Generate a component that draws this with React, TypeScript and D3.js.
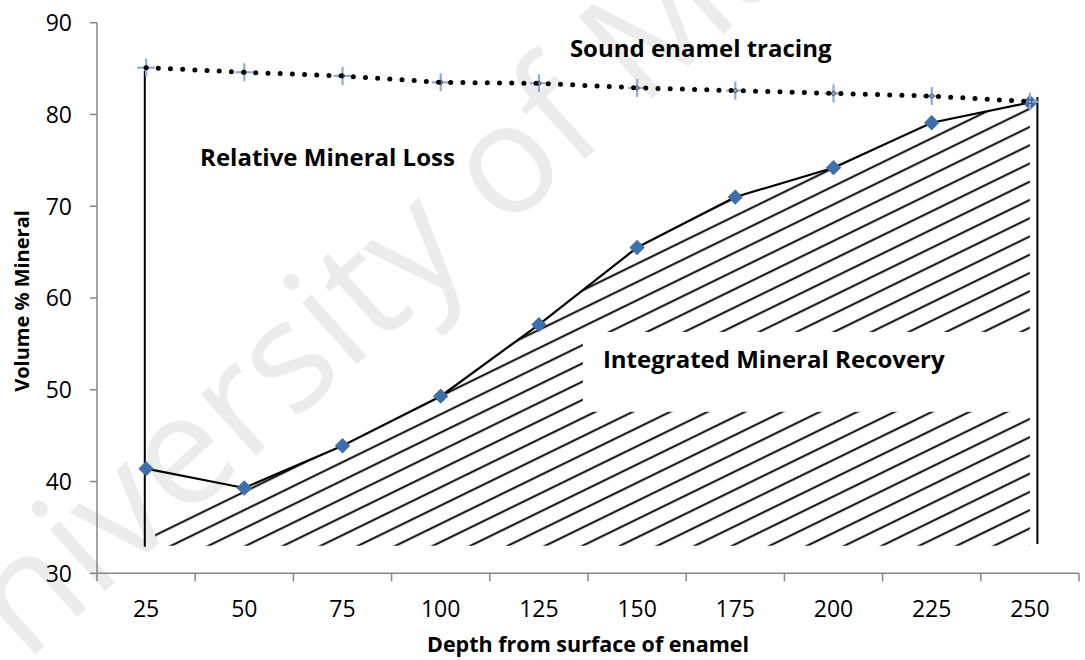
import React from "react";
import * as d3 from "d3";

// Depth into enamel (µm) at which each reading was taken
const depths = [25, 50, 75, 100, 125, 150, 175, 200, 225, 250];
// Lesion mineral profile (volume % mineral)
const lesionMineral = [41.4, 39.3, 43.9, 49.3, 57.1, 65.5, 71.0, 74.2, 79.1, 81.3];
// Sound enamel reference tracing (volume % mineral)
const soundMineral = [85.1, 84.6, 84.2, 83.5, 83.4, 82.9, 82.6, 82.3, 82.0, 81.4];
const yTicks = [30, 40, 50, 60, 70, 80, 90];
// Lower bound of the integrated recovery area
const hatchFloor = 33.0;

const W = 1085;
const H = 660;
const plot = { left: 97, right: 1079, top: 22.7, bottom: 573.3 };
const axisColor = "#868686";
const markerBlue = "#3f6fab";
const crossBlue = "#8eaad6";
const font = "'Open Sans', 'Liberation Sans', sans-serif";

export default function App() {
  const x = d3
    .scaleBand<number>()
    .domain(depths)
    .range([plot.left, plot.right])
    .padding(0);
  const cx = (d: number) => (x(d) as number) + x.bandwidth() / 2;
  const y = d3.scaleLinear().domain([30, 90]).range([plot.bottom, plot.top]);

  const lesionPts: [number, number][] = depths.map((d, i) => [cx(d), y(lesionMineral[i])]);
  const soundPts: [number, number][] = depths.map((d, i) => [cx(d), y(soundMineral[i])]);
  const line = d3.line();

  // Hatched area: under the lesion profile from the second reading onward,
  // extended to the left along the hatch direction.
  const slope = Math.tan((26 * Math.PI) / 180);
  const hatchLeft = cx(depths[0]) + 9;
  const leftTopY = lesionPts[1][1] + slope * (lesionPts[1][0] - hatchLeft);
  const hatchPoly: [number, number][] = [
    [hatchLeft, y(hatchFloor)],
    [hatchLeft, leftTopY],
    ...lesionPts.slice(1),
    [cx(depths[depths.length - 1]), y(hatchFloor)],
  ];

  const last = depths[depths.length - 1];
  // square turned 45° gives the diamond marker
  const diamond = d3.symbol(d3.symbolSquare, 118)() as string;

  return (
    <svg
      width={W}
      height={H}
      style={{ position: "absolute", left: 0, top: 0, background: "#fff" }}
      fontFamily={font}
    >
      <defs>
        <pattern
          id="hatch"
          patternUnits="userSpaceOnUse"
          width={60}
          height={16.4}
          patternTransform="rotate(-26)"
        >
          <line x1={0} x2={60} y1={8} y2={8} stroke="#000" strokeWidth={1.9} />
        </pattern>
        <clipPath id="hatchClip">
          <path d={line(hatchPoly) + "Z"} />
        </clipPath>
      </defs>

      {/* watermark */}
      <text
        transform="translate(-58,738) rotate(-42)"
        fontSize={154}
        fill="#ececec"
        fontFamily={font}
      >
        University of Malaya
      </text>

      {/* hatched recovery region */}
      <rect
        x={plot.left}
        y={plot.top}
        width={plot.right - plot.left}
        height={plot.bottom - plot.top}
        fill="url(#hatch)"
        clipPath="url(#hatchClip)"
      />
      {/* cleared box behind the recovery label */}
      <rect
        x={cx(125) + 44}
        y={y(56.3)}
        width={cx(last) - cx(125) - 41}
        height={y(47.6) - y(56.3)}
        fill="#fff"
      />

      {/* axes */}
      <g stroke={axisColor} strokeWidth={1.5} fill="none">
        <line x1={plot.left} x2={plot.left} y1={plot.top} y2={plot.bottom + 8} />
        <line x1={plot.left} x2={plot.right} y1={plot.bottom} y2={plot.bottom} />
        {yTicks.map((t) => (
          <line key={t} x1={plot.left - 7} x2={plot.left} y1={y(t)} y2={y(t)} />
        ))}
        {depths.map((d) => (
          <line
            key={d}
            x1={(x(d) as number) + x.bandwidth()}
            x2={(x(d) as number) + x.bandwidth()}
            y1={plot.bottom}
            y2={plot.bottom + 8}
          />
        ))}
      </g>
      <g fontSize={23} fill="#000">
        {yTicks.map((t) => (
          <text key={t} x={plot.left - 25} y={y(t)} dy="0.36em" textAnchor="end">
            {t}
          </text>
        ))}
        {depths.map((d) => (
          <text key={d} x={cx(d)} y={plot.bottom + 44} textAnchor="middle">
            {d}
          </text>
        ))}
      </g>
      <text
        x={(plot.left + plot.right) / 2}
        y={652}
        textAnchor="middle"
        fontSize={21.5}
        fontWeight="bold"
      >
        Depth from surface of enamel
      </text>
      <text
        transform={`translate(29,${y(60) + 3}) rotate(-90)`}
        textAnchor="middle"
        fontSize={20}
        fontWeight="bold"
      >
        Volume % Mineral
      </text>

      {/* boundary verticals */}
      <g stroke="#000" strokeWidth={2}>
        <line x1={cx(depths[0]) - 1.3} x2={cx(depths[0]) - 1.3} y1={y(soundMineral[0]) + 3} y2={y(32.9)} />
        <line x1={cx(last) + 7.5} x2={cx(last) + 7.5} y1={y(81.9)} y2={y(33.2)} />
      </g>

      {/* lesion profile */}
      <path d={line(lesionPts) as string} fill="none" stroke="#000" strokeWidth={2.2} />
      {lesionPts.map(([px, py], i) => (
        <path
          key={i}
          d={diamond}
          transform={`translate(${px},${py}) rotate(45)`}
          fill={markerBlue}
        />
      ))}

      {/* sound enamel tracing */}
      <g>
        {soundPts.map(([px, py], i) => (
          <g key={i} transform={`translate(${px},${py})`}>
            <line x1={-9} x2={9} y1={0} y2={0} stroke={crossBlue} strokeWidth={2.2} />
            <line x1={0} x2={0} y1={-9} y2={9} stroke={crossBlue} strokeWidth={2.2} />
            <circle r={2} fill="none" stroke="#333" strokeWidth={0.8} />
          </g>
        ))}
        <path
          d={line(soundPts) as string}
          fill="none"
          stroke="#000"
          strokeWidth={5}
          strokeLinecap="round"
          strokeDasharray="0 12.2"
        />
      </g>

      {/* annotations */}
      <g fontWeight="bold" fontSize={24} fill="#000">
        <text x={cx(125) + 31} y={y(86.3)}>Sound enamel tracing</text>
        <text x={cx(25) + 54} y={y(74.4)}>Relative Mineral Loss</text>
        <text x={cx(125) + 64} y={y(52.4)}>Integrated Mineral Recovery</text>
      </g>
    </svg>
  );
}
